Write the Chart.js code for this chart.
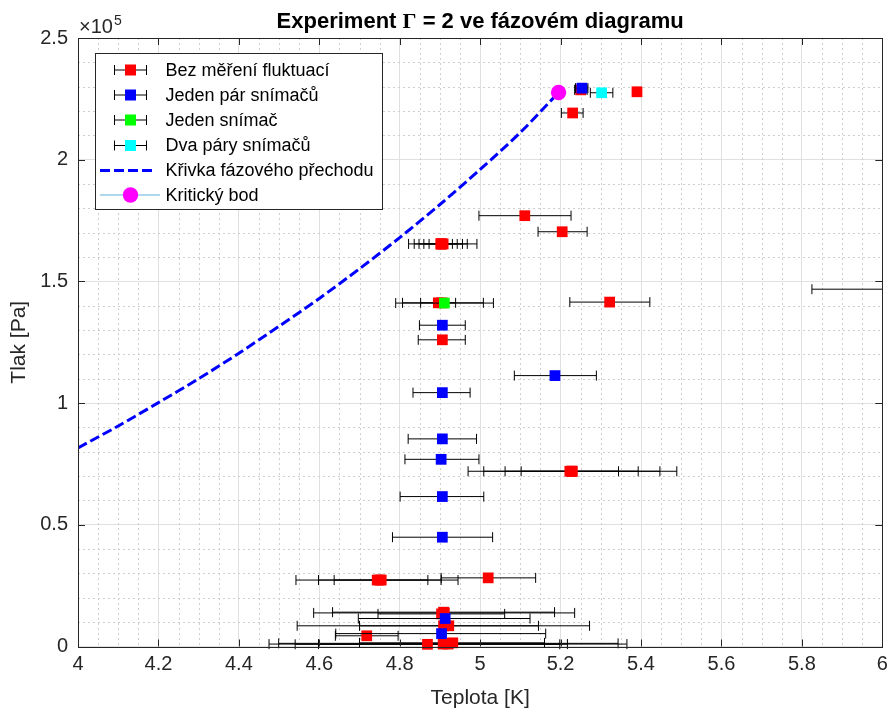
<!DOCTYPE html>
<html>
<head>
<meta charset="utf-8">
<script src="https://cdn.jsdelivr.net/npm/chart.js@4"></script>
<style>
html, body { margin: 0; padding: 0; background: #fff; }
#wrap { width: 890px; height: 711px; }
</style>
</head>
<body>
<div id="wrap"><canvas id="phaseChart" width="890" height="711"></canvas></div>
<script>
// Bez měření fluktuací (red): temperature, pressure, error bar ends
const redT  = [5.390, 5.250, 5.230, 5.111, 5.204, 4.908, 4.903, 4.903, 4.903, 4.903, 5.322, 4.905, 4.896, 6.150, 4.906,
               5.229, 5.228, 5.228, 5.223, 4.744, 4.750, 4.754, 5.020,
               4.911, 4.909, 4.904, 4.909, 4.922, 4.718, 4.869, 4.920, 4.908, 4.921, 4.932];
const redP  = [227900, 228700, 219200, 177000, 170400, 165400, 165400, 165400, 165400, 165400, 141500, 141200, 141200, 146800, 126000,
               72000, 72000, 72000, 72000, 27300, 27300, 27300, 28200,
               13800, 14100, 13400, 8500, 8500, 4400, 900, 1000, 1000, 1300, 1500];
const redLo = [5.387, 5.235, 5.202, 4.997, 5.144, 4.822, 4.836, 4.848, 4.860, 4.873, 5.223, 4.807, 4.852, 5.825, 4.846,
               4.970, 5.009, 5.062, 5.102, 4.542, 4.598, 4.637, 4.903,
               4.586, 4.633, 4.746, 4.545, 4.700, 4.640, 4.540, 4.475, 4.598, 4.499, 4.700];
const redHi = [5.393, 5.266, 5.256, 5.226, 5.266, 4.992, 4.968, 4.956, 4.943, 4.931, 5.422, 5.008, 4.939, 6.475, 4.963,
               5.489, 5.447, 5.393, 5.344, 4.945, 4.903, 4.870, 5.138,
               5.235, 5.185, 5.061, 5.272, 5.145, 4.796, 5.198, 5.365, 5.217, 5.343, 5.160];

// Jeden pár snímačů (blue)
const blueT  = [5.253, 4.906, 5.186, 4.906, 4.906, 4.903, 4.906, 4.906, 4.913, 4.904];
const blueP  = [229400, 132000, 111300, 104300, 85300, 76900, 61600, 44900, 11500, 5300];
const blueLo = [5.237, 4.849, 5.085, 4.833, 4.821, 4.813, 4.801, 4.782, 4.697, 4.641];
const blueHi = [5.268, 4.963, 5.289, 4.975, 4.991, 4.997, 5.009, 5.031, 5.124, 5.163];

// Jeden snímač (green)
const greenT  = [4.911];
const greenP  = [141100];
const greenLo = [4.790];
const greenHi = [5.033];

// Dva páry snímačů (cyan)
const cyanT  = [5.302];
const cyanP  = [227500];
const cyanLo = [5.274];
const cyanHi = [5.330];

// Křivka fázového přechodu
const curveT = [4.0, 4.1, 4.2, 4.3, 4.4, 4.5, 4.6, 4.7, 4.8, 4.9, 5.0, 5.1, 5.195];
const curveP = [81600, 90600, 100200, 110000, 120500, 131600, 143000, 155200, 168000, 181600, 196000, 211200, 227600];

// Kritický bod
const critT = [5.195];
const critP = [227600];

const legendLabels = ['Bez měření fluktuací', 'Jeden pár snímačů', 'Jeden snímač', 'Dva páry snímačů',
                      'Křivka fázového přechodu', 'Kritický bod'];

const axisColor = '#262626';
const fontFamily = "'Liberation Sans', Arial, Helvetica, sans-serif";

function pts(T, P, lo, hi) {
    return T.map((t, i) => ({ x: t, y: P[i], lo: lo ? lo[i] : null, hi: hi ? hi[i] : null }));
}

function markerSet(label, T, P, lo, hi, color, order) {
    return {
        label: label,
        data: pts(T, P, lo, hi),
        errorBars: true,
        pointStyle: 'rect',
        pointRadius: 7.6,
        backgroundColor: color,
        borderColor: color,
        borderWidth: 0,
        showLine: false,
        clip: false,
        order: order
    };
}

// horizontal error bars, drawn just below each dataset's markers
const errorBars = {
    id: 'errorBars',
    beforeDatasetDraw(chart, args) {
        const ds = chart.data.datasets[args.index];
        if (!ds.errorBars) return;
        const { ctx, chartArea: a, scales: { x, y } } = chart;
        ctx.save();
        ctx.beginPath();
        ctx.rect(a.left, a.top - 6, a.right - a.left, a.bottom - a.top + 12);
        ctx.clip();
        ctx.strokeStyle = '#000';
        ctx.lineWidth = 1;
        ds.data.forEach(p => {
            const x0 = x.getPixelForValue(p.lo);
            const x1 = x.getPixelForValue(p.hi);
            const py = y.getPixelForValue(p.y);
            ctx.beginPath();
            ctx.moveTo(x0, py); ctx.lineTo(x1, py);
            ctx.moveTo(x0, py - 5); ctx.lineTo(x0, py + 5);
            ctx.moveTo(x1, py - 5); ctx.lineTo(x1, py + 5);
            ctx.stroke();
        });
        ctx.restore();
    }
};

// dotted minor grid (MATLAB "grid minor")
const minorGrid = {
    id: 'minorGrid',
    beforeDatasetsDraw(chart) {
        const { ctx, chartArea: a, scales: { x, y } } = chart;
        ctx.save();
        ctx.strokeStyle = '#cfcfcf';
        ctx.lineWidth = 1;
        ctx.setLineDash([2, 3]);
        for (let i = 1; i < 40; i++) {
            if (i % 4 === 0) continue;
            const px = Math.round(x.getPixelForValue(4 + i * 0.05)) + 0.5;
            ctx.beginPath(); ctx.moveTo(px, a.top); ctx.lineTo(px, a.bottom); ctx.stroke();
        }
        for (let i = 1; i < 25; i++) {
            if (i % 5 === 0) continue;
            const py = Math.round(y.getPixelForValue(i * 10000)) + 0.5;
            ctx.beginPath(); ctx.moveTo(a.left, py); ctx.lineTo(a.right, py); ctx.stroke();
        }
        ctx.restore();
    }
};

// box, inward ticks, titles, exponent and legend
const decorations = {
    id: 'decorations',
    afterDraw(chart) {
        const { ctx, chartArea: a, scales: { x, y } } = chart;
        ctx.save();
        ctx.strokeStyle = axisColor;
        ctx.lineWidth = 1;
        ctx.strokeRect(Math.round(a.left) + 0.5, Math.round(a.top) + 0.5,
                       Math.round(a.right - a.left), Math.round(a.bottom - a.top));
        const tl = 7;
        ctx.beginPath();
        x.ticks.forEach(t => {
            const px = Math.round(x.getPixelForValue(t.value)) + 0.5;
            ctx.moveTo(px, a.bottom); ctx.lineTo(px, a.bottom - tl);
            ctx.moveTo(px, a.top); ctx.lineTo(px, a.top + tl);
        });
        y.ticks.forEach(t => {
            const py = Math.round(y.getPixelForValue(t.value)) + 0.5;
            ctx.moveTo(a.left, py); ctx.lineTo(a.left + tl, py);
            ctx.moveTo(a.right, py); ctx.lineTo(a.right - tl, py);
        });
        ctx.stroke();

        // axis titles
        ctx.fillStyle = axisColor;
        ctx.font = '21px ' + fontFamily;
        ctx.textAlign = 'center';
        ctx.textBaseline = 'middle';
        ctx.fillText('Teplota [K]', (a.left + a.right) / 2, 698);
        ctx.save();
        ctx.translate(19, (a.top + a.bottom) / 2);
        ctx.rotate(-Math.PI / 2);
        ctx.fillText('Tlak [Pa]', 0, 0);
        ctx.restore();

        // exponent
        ctx.textAlign = 'left';
        ctx.textBaseline = 'alphabetic';
        ctx.font = '20px ' + fontFamily;
        ctx.fillText('×10', 79, 33);
        const w10 = ctx.measureText('×10').width;
        ctx.font = '14px ' + fontFamily;
        ctx.fillText('5', 79 + w10 + 1, 25);

        // title: "Experiment Γ = 2 ve fázovém diagramu"
        ctx.fillStyle = '#000';
        const parts = [
            { t: 'Experiment ', f: 'bold 22px ' + fontFamily },
            { t: 'Γ', f: 'bold 22px "Liberation Serif", "DejaVu Serif", serif' },
            { t: ' = 2 ve fázovém diagramu', f: 'bold 22px ' + fontFamily }
        ];
        let total = 0;
        parts.forEach(p => { ctx.font = p.f; p.w = ctx.measureText(p.t).width; total += p.w; });
        let tx = (a.left + a.right) / 2 - total / 2;
        parts.forEach(p => { ctx.font = p.f; ctx.fillText(p.t, tx, 28); tx += p.w; });

        // legend
        const lx = 95, ly = 53, lw = 287, lh = 156;
        ctx.fillStyle = '#fff';
        ctx.fillRect(lx, ly, lw, lh);
        ctx.strokeStyle = axisColor;
        ctx.strokeRect(lx + 0.5, ly + 0.5, lw, lh);
        const rows = [70, 95, 120, 145.5, 170.5, 195];
        const colors = ['#ff0000', '#0000ff', '#00ff00', '#00ffff'];
        ctx.font = '18px ' + fontFamily;
        ctx.textBaseline = 'middle';
        legendLabels.forEach((lab, i) => {
            const ry = rows[i];
            if (i < 4) {
                ctx.strokeStyle = '#000';
                ctx.lineWidth = 1;
                ctx.setLineDash([]);
                ctx.beginPath();
                ctx.moveTo(114.5, ry); ctx.lineTo(146.5, ry);
                ctx.moveTo(114.5, ry - 5); ctx.lineTo(114.5, ry + 5);
                ctx.moveTo(146.5, ry - 5); ctx.lineTo(146.5, ry + 5);
                ctx.stroke();
                ctx.fillStyle = colors[i];
                ctx.fillRect(125, ry - 5.5, 11, 11);
            } else if (i === 4) {
                ctx.strokeStyle = '#0000ff';
                ctx.lineWidth = 3;
                ctx.setLineDash([10, 4]);
                ctx.beginPath(); ctx.moveTo(100, ry); ctx.lineTo(155, ry); ctx.stroke();
                ctx.setLineDash([]);
            } else {
                ctx.strokeStyle = '#5fb3d9';
                ctx.lineWidth = 1;
                ctx.beginPath(); ctx.moveTo(100, ry); ctx.lineTo(160, ry); ctx.stroke();
                ctx.fillStyle = '#ff00ff';
                ctx.beginPath(); ctx.arc(130.5, ry, 7.7, 0, Math.PI * 2); ctx.fill();
            }
            ctx.fillStyle = '#000';
            ctx.fillText(lab, 165.5, ry + 1);
        });
        ctx.restore();
    }
};

Chart.defaults.font.family = fontFamily;

const chart = new Chart(document.getElementById('phaseChart'), {
    type: 'scatter',
    data: {
        datasets: [
            markerSet(legendLabels[0], redT, redP, redLo, redHi, '#ff0000', 6),
            markerSet(legendLabels[1], blueT, blueP, blueLo, blueHi, '#0000ff', 5),
            markerSet(legendLabels[2], greenT, greenP, greenLo, greenHi, '#00ff00', 4),
            markerSet(legendLabels[3], cyanT, cyanP, cyanLo, cyanHi, '#00ffff', 3),
            {
                label: legendLabels[4],
                data: pts(curveT, curveP),
                showLine: true,
                borderColor: '#0000ff',
                borderWidth: 3,
                borderDash: [10, 4],
                pointRadius: 0,
                tension: 0.3,
                fill: false,
                order: 2
            },
            {
                label: legendLabels[5],
                data: pts(critT, critP),
                pointStyle: 'circle',
                pointRadius: 7.7,
                backgroundColor: '#ff00ff',
                borderColor: '#ff00ff',
                borderWidth: 0,
                clip: false,
                order: 1
            }
        ]
    },
    options: {
        responsive: false,
        animation: false,
        devicePixelRatio: 1,
        layout: { padding: { left: 0, right: 0, top: 38, bottom: 0 } },
        plugins: {
            legend: { display: false },
            tooltip: { enabled: false },
            title: { display: false }
        },
        scales: {
            x: {
                type: 'linear',
                min: 4,
                max: 6,
                afterFit: s => { s.height = 64.5; s.paddingRight = 6; s.paddingLeft = 0; },
                ticks: {
                    stepSize: 0.2,
                    padding: 6,
                    color: axisColor,
                    font: { size: 20 },
                    maxRotation: 0,
                    autoSkip: false,
                    callback: v => String(Number(v.toFixed(1)))
                },
                grid: { color: '#e0e0e0', drawTicks: false },
                border: { display: false }
            },
            y: {
                type: 'linear',
                min: 0,
                max: 250000,
                afterFit: s => { s.width = 78; },
                ticks: {
                    stepSize: 50000,
                    padding: 10,
                    color: axisColor,
                    font: { size: 20 },
                    callback: v => String(Number((v / 1e5).toFixed(1)))
                },
                grid: { color: '#e0e0e0', drawTicks: false },
                border: { display: false }
            }
        }
    },
    plugins: [minorGrid, errorBars, decorations]
});
</script>
</body>
</html>
